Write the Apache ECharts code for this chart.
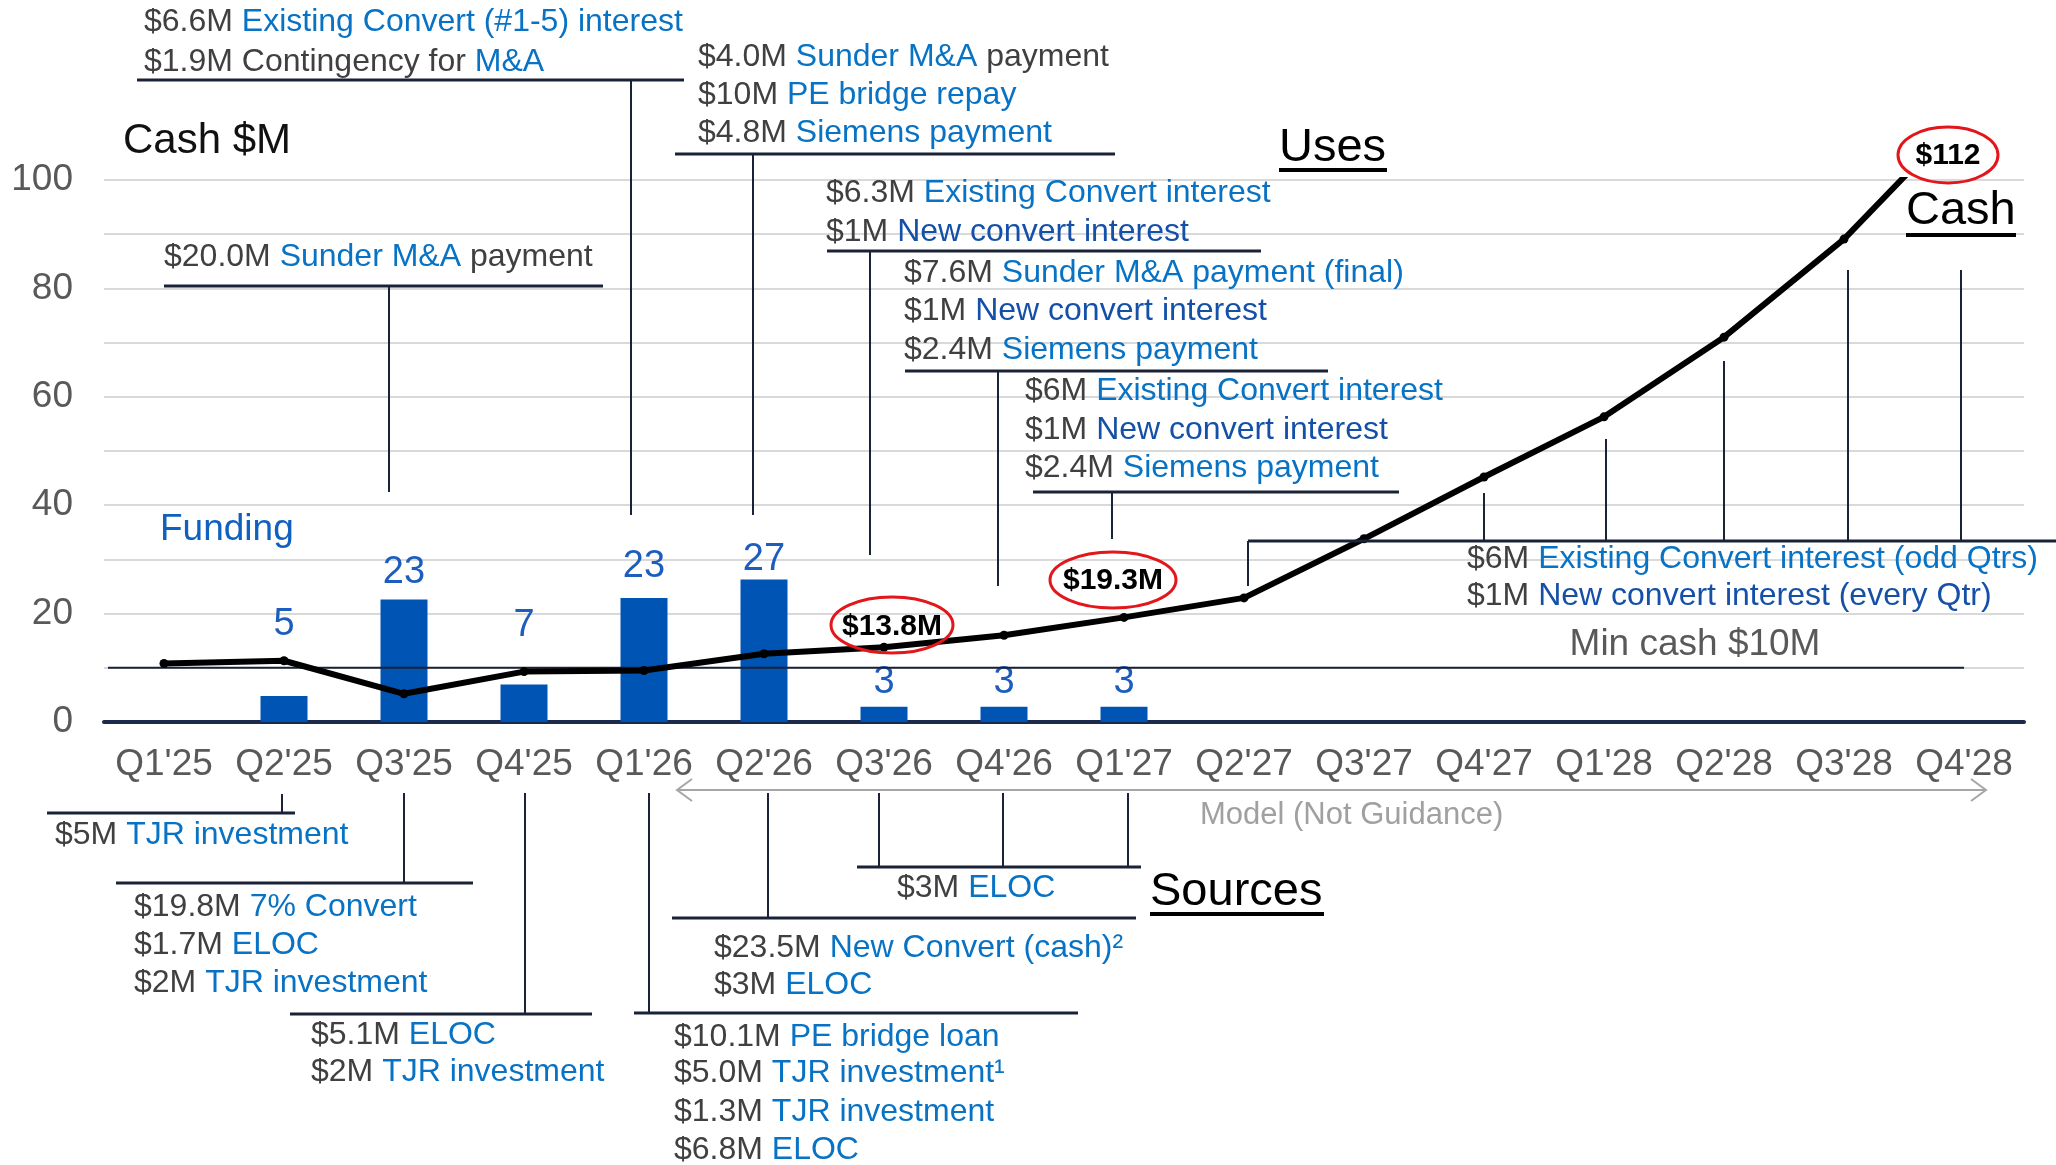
<!DOCTYPE html>
<html>
<head>
<meta charset="utf-8">
<script src="https://cdn.jsdelivr.net/npm/echarts@6/dist/echarts.min.js"></script>
<style>
html,body{margin:0;padding:0;background:#fff}
#main{width:2056px;height:1165px}
</style>
</head>
<body>
<div id="main"></div>
<script>
// ---- data ----
var quarters = ["Q1'25","Q2'25","Q3'25","Q4'25","Q1'26","Q2'26","Q3'26","Q4'26","Q1'27","Q2'27","Q3'27","Q4'27","Q1'28","Q2'28","Q3'28","Q4'28"];
var cash = [10.8, 11.3, 5.2, 9.3, 9.5, 12.6, 13.8, 16.0, 19.3, 22.9, 33.8, 45.2, 56.3, 71.0, 89.1, 112];
var funding = [null, 4.8, 22.6, 6.9, 22.9, 26.3, 2.8, 2.8, 2.8, null, null, null, null, null, null, null];
var fundingLabels = ['', '5', '23', '7', '23', '27', '3', '3', '3'];
var yTicks = [0, 20, 40, 60, 80, 100];
var minCash = 10;

// label gap above each funding bar (px)
var labelGap = [0, 52, 8, 40, 12, 1, 5, 5, 5];

var FF = "'Liberation Sans', Arial, sans-serif";
var GREY = '#404040', BLUE = '#0872C4', NAVY = '#1450A8', LINE = '#1A2238';
var RICH = {
  g: {fill: GREY},
  b: {fill: BLUE},
  n: {fill: NAVY}
};

var dom = document.getElementById('main');
var myChart = echarts.init(dom);

var barData = [];
for (var i = 0; i < funding.length; i++) {
  barData.push({value: funding[i], label: {distance: labelGap[i] || 0}});
}

var option = {
  animation: false,
  grid: {left: 104, right: 32, top: 180, bottom: 443},
  xAxis: {
    type: 'category',
    data: quarters,
    axisLine: {lineStyle: {color: '#1B2A4A', width: 4}},
    axisTick: {show: false},
    axisLabel: {interval: 0, fontSize: 37, color: '#595959', margin: 24, fontFamily: FF}
  },
  yAxis: {
    type: 'value',
    min: 0, max: 100, interval: 10,
    axisLine: {show: false},
    axisTick: {show: false},
    splitLine: {lineStyle: {color: '#D9D9D9', width: 2}},
    axisLabel: {
      fontSize: 37, color: '#595959', margin: 31, fontFamily: FF,
      formatter: function (v) { return yTicks.indexOf(v) >= 0 ? v : ''; }
    }
  },
  series: [
    {
      name: 'Funding',
      type: 'bar',
      data: barData,
      barWidth: 47,
      itemStyle: {color: '#0055B4'},
      label: {
        show: true, position: 'top', fontSize: 38, color: '#1C5DBE', fontFamily: FF,
        formatter: function (p) { return fundingLabels[p.dataIndex] || ''; }
      }
    },
    {
      name: 'Cash',
      type: 'line',
      data: cash,
      z: 4,
      symbol: 'circle',
      symbolSize: 9,
      itemStyle: {color: '#000'},
      lineStyle: {color: '#000', width: 6}
    }
  ]
};
myChart.setOption(option);

// ---- annotations ----
function txt(x, y, text, size, color, extra) {
  var s = {text: text, font: (extra && extra.bold ? 'bold ' : '') + size + 'px ' + FF, fill: color,
           verticalAlign: 'middle', align: (extra && extra.align) || 'left', rich: RICH};
  return {type: 'text', x: x, y: y, z: 20, style: s};
}
function ln(x1, y1, x2, y2, w, c) {
  return {type: 'line', z: 15, shape: {x1: x1, y1: y1, x2: x2, y2: y2},
          style: {stroke: c || LINE, lineWidth: w || 2}};
}
function oval(cx, cy, rx, ry) {
  return {type: 'ellipse', z: 18, shape: {cx: cx, cy: cy, rx: rx, ry: ry},
          style: {fill: 'rgba(0,0,0,0)', stroke: '#E3161B', lineWidth: 3}};
}

var blocks = [
  // uses
  {x: 144, ys: [22, 62], lines: ['{g|$6.6M }{b|Existing Convert (#1-5) interest}', '{g|$1.9M Contingency for }{b|M&A}'],
   bar: [137, 684, 80], stems: [[631, 80, 515]]},
  {x: 164, ys: [257], lines: ['{g|$20.0M }{b|Sunder M&A}{g| payment}'],
   bar: [164, 603, 286], stems: [[389, 286, 492]]},
  {x: 698, ys: [57, 95, 133], lines: ['{g|$4.0M }{b|Sunder M&A}{g| payment}', '{g|$10M }{b|PE bridge repay}', '{g|$4.8M }{b|Siemens payment}'],
   bar: [675, 1115, 154], stems: [[753, 154, 515]]},
  {x: 826, ys: [193, 232], lines: ['{g|$6.3M }{b|Existing Convert interest}', '{g|$1M }{n|New convert interest}'],
   bar: [827, 1261, 251], stems: [[870, 251, 555]]},
  {x: 904, ys: [273, 311, 350], lines: ['{g|$7.6M }{b|Sunder M&A payment (final)}', '{g|$1M }{n|New convert interest}', '{g|$2.4M }{b|Siemens payment}'],
   bar: [905, 1328, 371], stems: [[998, 371, 586]]},
  {x: 1025, ys: [391, 430, 468], lines: ['{g|$6M }{b|Existing Convert interest}', '{g|$1M }{n|New convert interest}', '{g|$2.4M }{b|Siemens payment}'],
   bar: [1033, 1399, 492], stems: [[1112, 492, 539]]},
  {x: 1467, ys: [559, 596], lines: ['{g|$6M }{b|Existing Convert interest (odd Qtrs)}', '{g|$1M }{n|New convert interest (every Qtr)}'],
   bar: [1248, 2056, 541], stems: [[1248, 541, 586], [1484, 541, 493], [1606, 541, 439], [1724, 541, 361], [1848, 541, 270], [1961, 541, 270]]},
  // sources
  {x: 55, ys: [835], lines: ['{g|$5M }{b|TJR investment}'],
   bar: [47, 295, 813], stems: [[282, 794, 813]]},
  {x: 134, ys: [907, 945, 983], lines: ['{g|$19.8M }{b|7% Convert}', '{g|$1.7M }{b|ELOC}', '{g|$2M }{b|TJR investment}'],
   bar: [116, 473, 883], stems: [[404, 793, 883]]},
  {x: 311, ys: [1035, 1072], lines: ['{g|$5.1M }{b|ELOC}', '{g|$2M }{b|TJR investment}'],
   bar: [290, 592, 1014], stems: [[525, 793, 1014]]},
  {x: 674, ys: [1037, 1073, 1112, 1150], lines: ['{g|$10.1M }{b|PE bridge loan}', '{g|$5.0M }{b|TJR investment¹}', '{g|$1.3M }{b|TJR investment}', '{g|$6.8M }{b|ELOC}'],
   bar: [634, 1078, 1013], stems: [[649, 793, 1013]]},
  {x: 714, ys: [948, 985], lines: ['{g|$23.5M }{b|New Convert (cash)²}', '{g|$3M }{b|ELOC}'],
   bar: [672, 1136, 918], stems: [[768, 793, 918]]},
  {x: 897, ys: [888], lines: ['{g|$3M }{b|ELOC}'],
   bar: [857, 1141, 867], stems: [[879, 793, 867], [1003, 793, 867], [1128, 793, 867]]}
];

var els = [];
blocks.forEach(function (b) {
  b.lines.forEach(function (t, k) { els.push(txt(b.x, b.ys[k], t, 32, GREY)); });
  els.push(ln(b.bar[0], b.bar[2], b.bar[1], b.bar[2], 3));
  b.stems.forEach(function (s) { els.push(ln(s[0], s[1], s[0], s[2], 2)); });
});

// headings
els.push(txt(123, 141, 'Cash $M', 42, '#111'));
els.push(txt(160, 530, 'Funding', 37, '#1060C0'));
els.push(txt(1279, 148, 'Uses', 47, '#000'));
els.push(ln(1279, 170, 1387, 170, 4, '#000'));
els.push(txt(1906, 211, 'Cash', 47, '#000'));
els.push(ln(1906, 235, 2016, 235, 4, '#000'));
els.push(txt(1150, 892, 'Sources', 47, '#000'));
els.push(ln(1150, 914, 1324, 914, 4, '#000'));
els.push(txt(1695, 645, 'Min cash $10M', 37, '#595959', {align: 'center'}));

// model arrow
els.push(ln(677, 790, 1986, 790, 2, '#A6A6A6'));
els.push({type: 'polyline', z: 15, shape: {points: [[692, 779], [677, 790], [692, 801]]}, style: {stroke: '#A6A6A6', lineWidth: 2, fill: null}});
els.push({type: 'polyline', z: 15, shape: {points: [[1971, 779], [1986, 790], [1971, 801]]}, style: {stroke: '#A6A6A6', lineWidth: 2, fill: null}});
els.push(txt(1200, 815, 'Model (Not Guidance)', 31, '#A0A0A0'));

// callout ovals
els.push(oval(892, 625, 61, 28));
els.push(txt(892, 627, '$13.8M', 30, '#000', {bold: true, align: 'center'}));
els.push(oval(1113, 580, 63, 28));
els.push(txt(1113, 581, '$19.3M', 30, '#000', {bold: true, align: 'center'}));
els.push(oval(1948, 155, 50, 28));
els.push(txt(1948, 156, '$112', 30, '#000', {bold: true, align: 'center'}));

// min cash line through the axis scales
var yMin = myChart.convertToPixel({yAxisIndex: 0}, minCash);
var xFirst = myChart.convertToPixel({xAxisIndex: 0}, quarters[0]);
var xLast = myChart.convertToPixel({xAxisIndex: 0}, quarters[quarters.length - 1]);
var band = (xLast - xFirst) / (quarters.length - 1);
els.push({type: 'line', z: 3, shape: {x1: xFirst - band / 2 + 4, y1: yMin, x2: xLast, y2: yMin},
          style: {stroke: '#1A2238', lineWidth: 2}});

myChart.setOption({graphic: els});
</script>
</body>
</html>
